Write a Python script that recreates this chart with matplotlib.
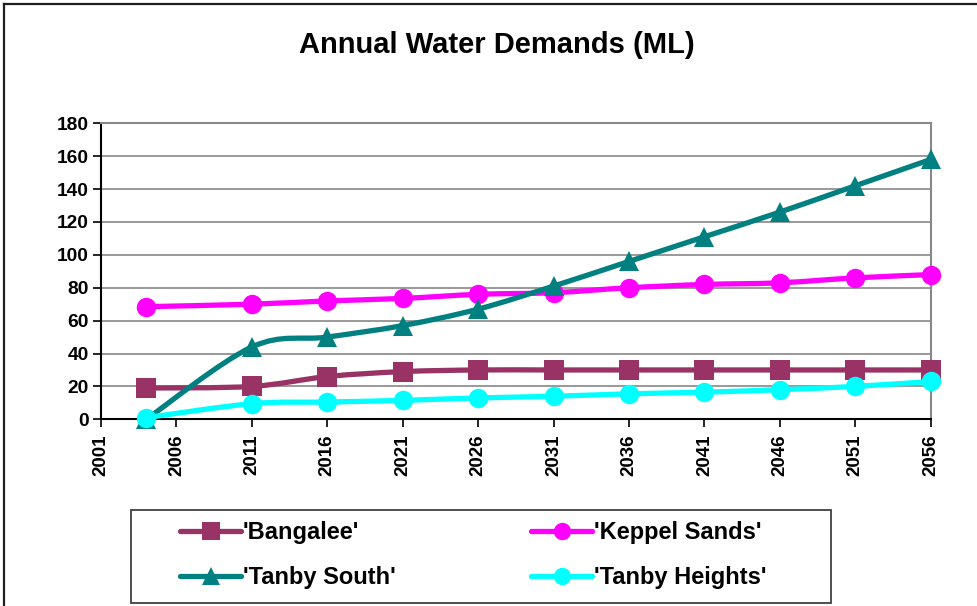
import numpy as np
import matplotlib
matplotlib.use('Agg')
import matplotlib.pyplot as plt
from matplotlib.path import Path
from matplotlib.patches import PathPatch, Rectangle
from matplotlib.lines import Line2D

plt.rcParams['font.family'] = ['Liberation Sans', 'DejaVu Sans']
plt.rcParams['font.weight'] = 'bold'

# ---- data ----
years = [2004, 2011, 2016, 2021, 2026, 2031, 2036, 2041, 2046, 2051, 2056]
bangalee = [19, 20, 26, 29, 30, 30, 30, 30, 30, 30, 30]
keppel_sands = [68.5, 70, 72, 73.5, 76, 77, 80, 82, 83, 86, 88]
tanby_south = [0, 44, 50, 57, 67, 81, 96, 111, 126, 142, 158]
tanby_heights = [1, 9.5, 10.5, 11.5, 13, 14, 15.5, 16.5, 18, 20, 23]
series_names = ["'Bangalee'", "'Keppel Sands'", "'Tanby South'", "'Tanby Heights'"]
x_ticks = list(range(2001, 2057, 5))
y_ticks = list(range(0, 181, 20))
title = "Annual Water Demands (ML)"

colors = ['#993366', '#FF00FF', '#008080', '#00FFFF']
markers = ['s', 'o', '^', 'o']

W, H = 978, 606
fig = plt.figure(figsize=(W / 100, H / 100), dpi=100)
ax = fig.add_axes([101 / W, 1 - 419.3 / H, (930.7 - 101) / W, (419.3 - 123.3) / H])


def smooth_path(x, y):
    pts = np.column_stack([x, y]).astype(float)
    n = len(pts)
    verts = [pts[0]]
    codes = [Path.MOVETO]
    for i in range(n - 1):
        p0 = pts[max(i - 1, 0)]
        p1 = pts[i]
        p2 = pts[i + 1]
        p3 = pts[min(i + 2, n - 1)]
        c1 = p1 + (p2 - p0) / 6.0
        c2 = p2 - (p3 - p1) / 6.0
        verts += [c1, c2, p2]
        codes += [Path.CURVE4] * 3
    return Path(verts, codes)


all_series = [bangalee, keppel_sands, tanby_south, tanby_heights]
handles = []
for i, (vals, c, m, name) in enumerate(zip(all_series, colors, markers, series_names)):
    patch = PathPatch(smooth_path(years, vals), facecolor='none', edgecolor=c,
                      lw=3.8, capstyle='round', joinstyle='round',
                      transform=ax.transData, zorder=3 + i, clip_on=False)
    ax.add_patch(patch)
    ax.plot(years, vals, linestyle='none', marker=m, markersize=14, color=c,
            markeredgecolor=c, markeredgewidth=0, zorder=3 + i, clip_on=False)
    handles.append(Line2D([0], [0], color=c, lw=3.8, solid_capstyle='round',
                          marker=m, markersize=12.5, markeredgewidth=0))

ax.set_xlim(2001, 2056)
ax.set_ylim(0, 180)
ax.set_xticks(x_ticks)
ax.set_yticks(y_ticks)
ax.set_xticklabels([str(t) for t in x_ticks], rotation=90, fontsize=13.5,
                   fontweight='bold')
ax.set_yticklabels([str(t) for t in y_ticks], fontsize=13.8, fontweight='bold')
ax.tick_params(axis='both', direction='out', length=6, width=1.2, color='black')
ax.tick_params(axis='y', pad=3)
ax.tick_params(axis='x', pad=5)
ax.yaxis.grid(True, color='#888888', lw=1.2)
ax.set_axisbelow(True)
for s in ['left', 'bottom']:
    ax.spines[s].set_color('black')
    ax.spines[s].set_linewidth(1.5)
for s in ['top', 'right']:
    ax.spines[s].set_color('#888888')
    ax.spines[s].set_linewidth(1.5)

fig.text(496.5 / W, 1 - 53.3 / H, title, ha='center', va='baseline',
         fontsize=21, fontweight='bold')

# outer chart frame (top and left edges visible)
fig.add_artist(Line2D([4 / W, 1], [1 - 4 / H, 1 - 4 / H], color='#202020',
                      lw=1.6, transform=fig.transFigure))
fig.add_artist(Line2D([4 / W, 4 / W], [0, 1 - 4 / H], color='#202020',
                      lw=1.6, transform=fig.transFigure))

# legend box
fig.add_artist(Rectangle((130.7 / W, 1 - 603.3 / H), (830.7 - 130.7) / W,
                         (603.3 - 510) / H, transform=fig.transFigure,
                         facecolor='white', edgecolor='#404040', lw=1.3))
leg_kw = dict(loc='upper left', ncol=1, frameon=False,
              prop={'size': 17, 'weight': 'bold'}, handlelength=2.6,
              handletextpad=0.05, borderpad=0, borderaxespad=0,
              labelspacing=0.95)
fig.legend([handles[0], handles[2]], [series_names[0], series_names[2]],
           bbox_to_anchor=(180 / W, 1 - 521 / H), **leg_kw)
fig.legend([handles[1], handles[3]], [series_names[1], series_names[3]],
           bbox_to_anchor=(531 / W, 1 - 521 / H), **leg_kw)

fig.savefig('out.png', dpi=100)
